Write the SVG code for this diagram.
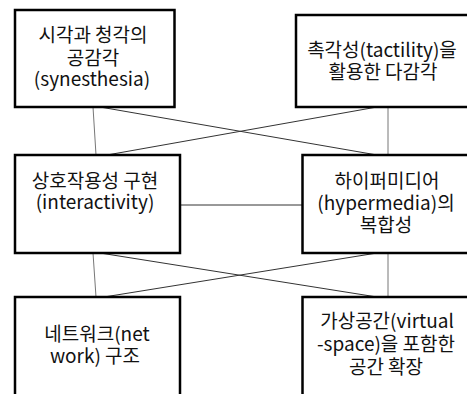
<svg xmlns="http://www.w3.org/2000/svg" width="467" height="394" viewBox="0 0 467 394">
<style>
.box{fill:#fff;stroke:#000;stroke-width:2.5}
.t{font-family:"Malgun Gothic","Noto Sans CJK KR","Noto Sans",sans-serif;font-size:19px;fill:#111;text-anchor:middle}
.c{stroke:#333;stroke-width:1;fill:none}
.v{stroke:#777;stroke-width:1;fill:none}
</style>
<rect width="467" height="394" fill="#fff"/>
<g id="connectors">
<line class="v" x1="93" y1="107" x2="96" y2="155"/>
<line class="c" x1="100" y1="107" x2="377" y2="155"/>
<line class="c" x1="377" y1="107" x2="107" y2="155"/>
<line class="v" x1="388" y1="107" x2="388" y2="155"/>
<line class="c" x1="180" y1="205" x2="302" y2="205"/>
<line class="v" x1="93" y1="253" x2="96" y2="297"/>
<line class="c" x1="100" y1="253" x2="377" y2="297"/>
<line class="c" x1="377" y1="253" x2="104" y2="297"/>
<line class="v" x1="388" y1="253" x2="388" y2="297"/>
</g>
<g id="n1">
<rect class="box" x="15" y="10" width="159.5" height="97"/>
<text class="t" x="93" y="42">시각과 청각의</text>
<text class="t" x="93" y="65">공감각</text>
<text class="t" x="92" y="86">(synesthesia)</text>
</g>
<g id="n2">
<rect class="box" x="296" y="15" width="180" height="92"/>
<text class="t" x="382" y="57">촉각성(tactility)을</text>
<text class="t" x="383" y="79">활용한 다감각</text>
</g>
<g id="n3">
<rect class="box" x="15" y="155" width="165" height="98"/>
<text class="t" x="95" y="188">상호작용성 구현</text>
<text class="t" x="95" y="209">(interactivity)</text>
</g>
<g id="n4">
<rect class="box" x="302.5" y="155" width="180" height="98"/>
<text class="t" x="387" y="188">하이퍼미디어</text>
<text class="t" x="386" y="210">(hypermedia)의</text>
<text class="t" x="386" y="232">복합성</text>
</g>
<g id="n5">
<rect class="box" x="15" y="297" width="165" height="110"/>
<text class="t" x="97" y="341">네트워크(net</text>
<text class="t" x="95" y="363">work) 구조</text>
</g>
<g id="n6">
<rect class="box" x="302.5" y="297" width="180" height="110"/>
<text class="t" x="387" y="328">가상공간(virtual</text>
<text class="t" x="386" y="351">-space)을 포함한</text>
<text class="t" x="386" y="374">공간 확장</text>
</g>
</svg>
